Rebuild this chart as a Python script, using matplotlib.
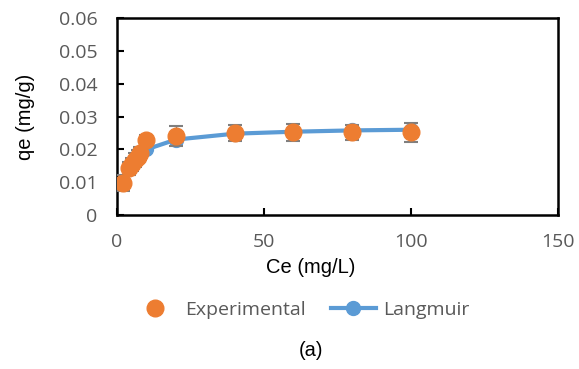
import matplotlib
matplotlib.use("Agg")
import matplotlib.pyplot as plt

# data
ce = [2, 4, 5, 6, 7, 8, 10, 20, 40, 60, 80, 100]
qe_exp = [0.0098, 0.0142, 0.0155, 0.0168, 0.0178, 0.0188, 0.0230, 0.0240, 0.0250, 0.0252, 0.0252, 0.0252]
qe_err = [0.0025, 0.0020, 0.0020, 0.0020, 0.0020, 0.0020, 0.0015, 0.0030, 0.0025, 0.0025, 0.0022, 0.0028]
qe_lang = [0.0099, 0.0145, 0.0160, 0.0170, 0.0180, 0.0188, 0.0200, 0.0230, 0.0248, 0.0254, 0.0258, 0.0260]

orange = "#ED7D31"
blue = "#5B9BD5"
grey = "#595959"
tick_font = "Open Sans"
label_font = "Liberation Sans"

fig = plt.figure(figsize=(5.79, 3.69), dpi=100)
ax = fig.add_axes([0.202, 0.417, 0.762, 0.534])

ax.plot(ce, qe_lang, "-o", color=blue, lw=3, ms=10, label="Langmuir", zorder=2)
ax.errorbar(ce, qe_exp, yerr=qe_err, fmt="none", ecolor="#7f7f7f", elinewidth=1,
            capsize=5, capthick=1.5, zorder=3)
ax.plot(ce, qe_exp, "o", color=orange, ms=12, ls="none", label="Experimental", zorder=4)

ax.set_xlim(0, 150)
ax.set_ylim(0, 0.06)
ax.set_xticks([0, 50, 100, 150])
ax.set_yticks([0, 0.01, 0.02, 0.03, 0.04, 0.05, 0.06])
ax.set_yticklabels(["0", "0.01", "0.02", "0.03", "0.04", "0.05", "0.06"])

for s in ax.spines.values():
    s.set_linewidth(1.8)
    s.set_color("black")
ax.tick_params(direction="in", length=5, width=1.5, colors="black",
               labelcolor=grey, labelsize=14)
ax.tick_params(axis="x", pad=13)
ax.tick_params(axis="y", pad=14)
for t in ax.get_xticklabels() + ax.get_yticklabels():
    t.set_fontfamily(tick_font)

ax.set_xlabel("Ce (mg/L)", fontsize=14.5, family=label_font)
ax.xaxis.set_label_coords(0.438, -0.22)
ax.set_ylabel("qe (mg/g)", fontsize=14.5, family=label_font)
ax.yaxis.set_label_coords(-0.186, 0.5)

h, l = ax.get_legend_handles_labels()
fig.legend(h[::-1], l[::-1], loc="center", bbox_to_anchor=(0.52, 0.16), ncol=2,
           frameon=False, prop={"family": tick_font, "size": 14},
           labelcolor=grey, handlelength=2.3, columnspacing=1.3, handletextpad=0.4)

fig.text(0.537, 0.05, "(a)", ha="center", va="center", fontsize=14.5, family=label_font)

fig.savefig("out.png", dpi=100)
